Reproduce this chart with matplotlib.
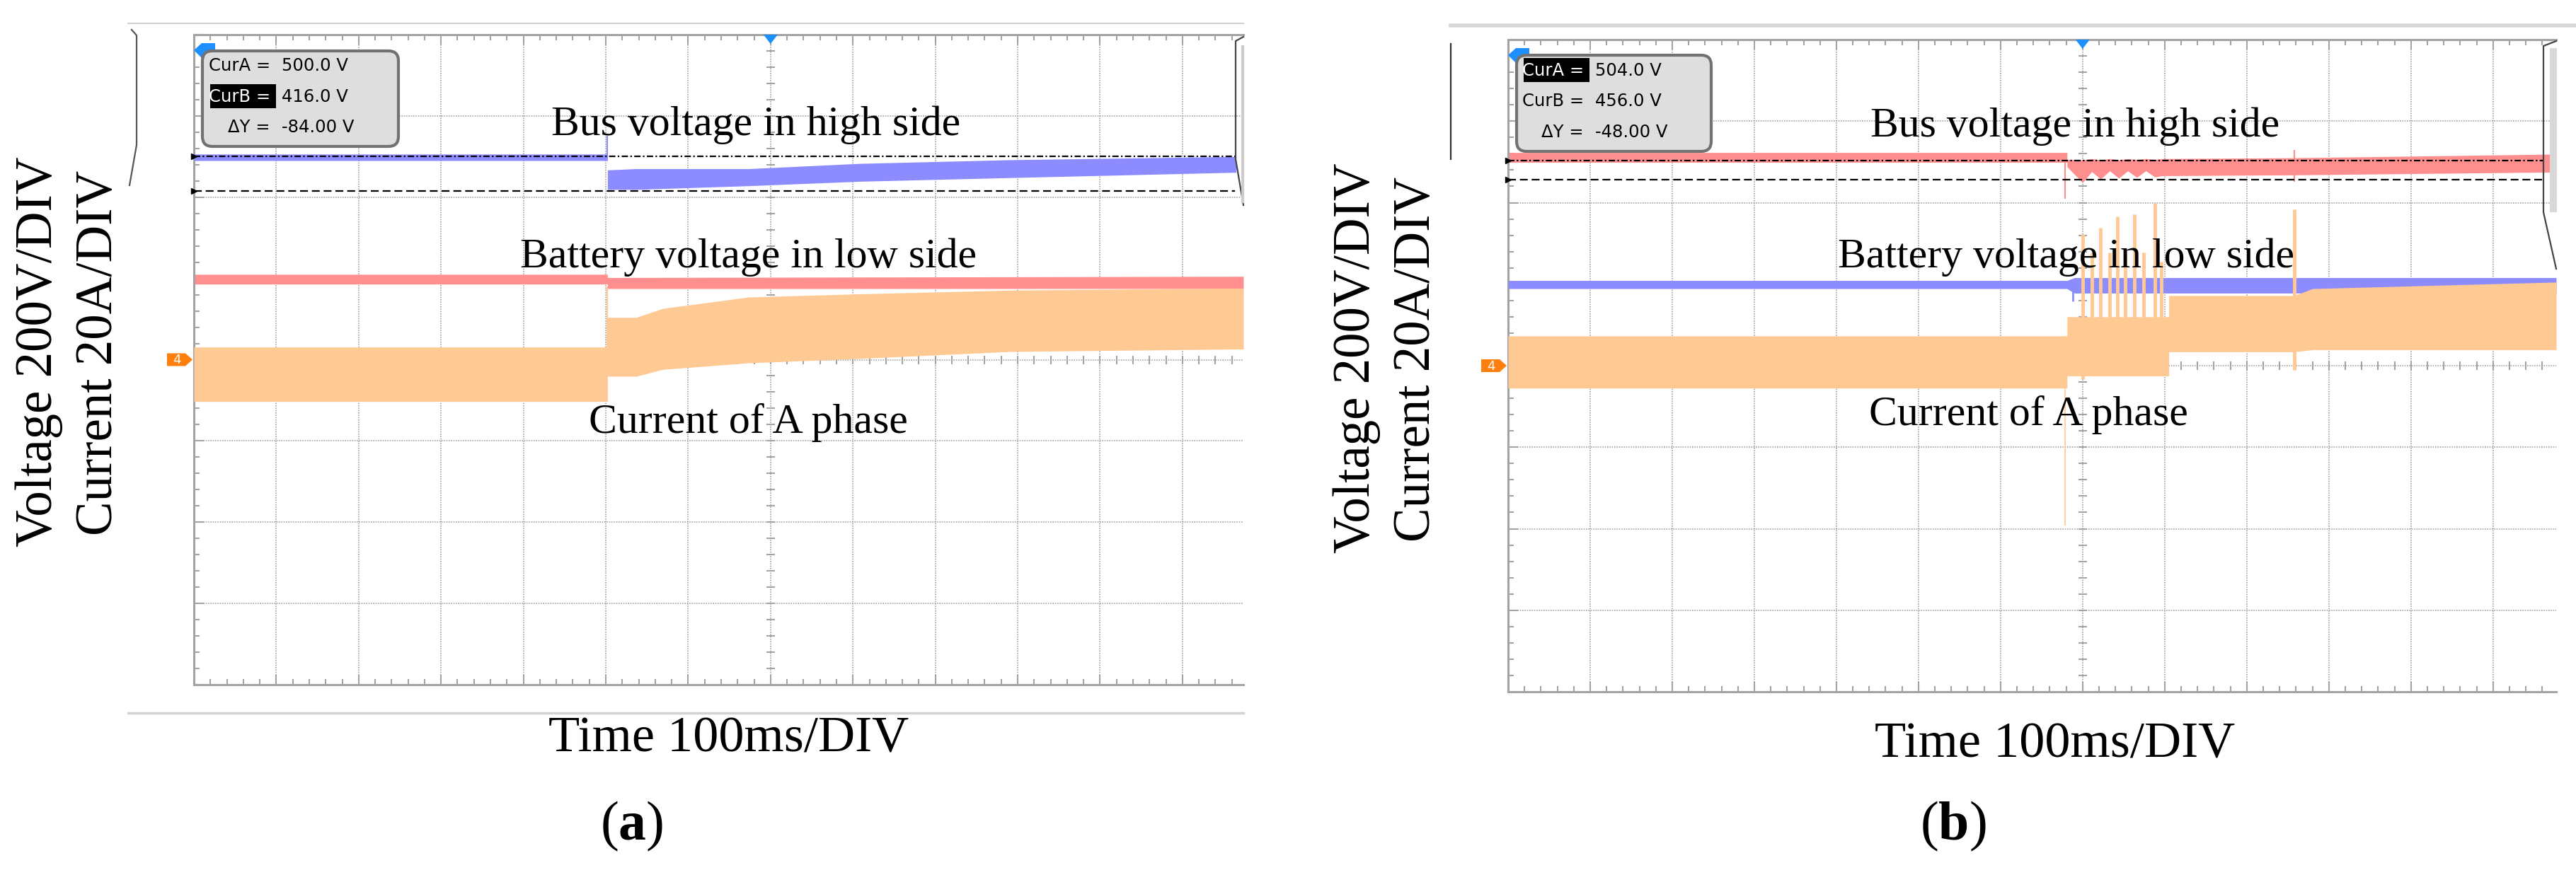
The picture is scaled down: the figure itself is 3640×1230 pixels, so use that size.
import numpy as np
import matplotlib.pyplot as plt
from matplotlib.patches import FancyBboxPatch, Polygon, Rectangle
from matplotlib.transforms import Affine2D

plt.rcParams['font.family'] = 'Liberation Serif'
plt.rcParams['mathtext.fontset'] = 'custom'
plt.rcParams['mathtext.rm'] = 'Liberation Serif'
plt.rcParams['mathtext.bf'] = 'Liberation Serif:bold'

# scope traces
# time in ms (100 ms/DIV, trigger at 0), voltage in V (200 V/DIV), current in A (20 A/DIV)
a_bus_t = [-700, -198, -198, -163, -27, 109, 291, 563, 565]
a_bus_hi = [506, 506, 467, 470, 470, 483, 492, 500, 500]
a_bus_lo = [490, 490, 419, 419, 428, 439, 448, 461, 461]
a_bat_t = [-700, -198, -198, 574]
a_bat_hi = [210, 210, 202, 205]
a_bat_lo = [186, 186, 175, 175]
a_cur_t = [-700, -198, -198, -163, -131, -27, 109, 291, 563, 574]
a_cur_hi = [3.1, 3.1, 10.4, 10.4, 12.6, 15.4, 16.2, 17.1, 17.6, 17.6]
a_cur_lo = [-10.3, -10.3, -4.1, -4.1, -2.4, -0.8, 0.3, 2.0, 2.6, 2.6]
a_cursors = [500.0, 416.0]

b_bus_t = [-700, -19, -19, 0, 11, 22, 33, 44, 55, 66, 77, 88, 97, 258, 577]
b_bus_hi = [523, 523, 506, 505, 508, 505, 508, 505, 508, 506, 508, 506, 508, 510, 519]
b_bus_lo = [499, 499, 488, 449, 476, 458, 478, 460, 478, 462, 478, 463, 466, 468, 475]
b_bat_t = [-700, -19, -10, 577]
b_bat_hi = [209, 209, 216, 216]
b_bat_lo = [189, 189, 178, 178]
b_cur_t = [-700, -19, -19, 105, 105, 258, 280, 577]
b_cur_hi = [7.3, 7.3, 12.0, 12.0, 17.2, 17.2, 18.9, 20.5]
b_cur_lo = [-5.5, -5.5, -2.5, -2.5, 3.4, 3.4, 3.9, 3.9]
b_cursors = [504.0, 456.0]

# transient spikes: time, low, high
b_cur_spk_t = [-21, 0, 11, 22, 33, 42, 52, 63, 74, 88, 96, 258]
b_cur_spk_lo = [-39.3, -3.3, -2.0, -2.5, -2.0, -2.5, -2.0, -2.5, -2.0, -2.2, -2.0, -1.1]
b_cur_spk_hi = [7.3, 32.2, 27.7, 33.8, 27.7, 36.6, 27.7, 37.2, 27.7, 39.9, 25.5, 38.3]
b_bus_spk_t = [-21, 258]
b_bus_spk_lo = [410, 452]
b_bus_spk_hi = [523, 530]
b_bat_spk_t = [-12, 0]
b_bat_spk_lo = [158, 162]
b_bat_spk_hi = [209, 212]
a_bus_spk = ([-198], [490], [551])
a_cur_spk = ([-198], [3.0], [18.0])

W, H = 3640, 1230
fig = plt.figure(figsize=(W / 100, H / 100), dpi=100)
PX = Affine2D().scale(1 / W, 1 / H) + fig.transFigure

GRID = '#a3a3a3'
BLUE = '#8c8cff'
PINK = '#ff8f8f'
ORANGE = '#ffc994'


def line(pts, **kw):
    fig.add_artist(plt.Line2D([p[0] for p in pts], [H - p[1] for p in pts], transform=PX, **kw))


def poly(pts, **kw):
    fig.add_artist(Polygon([(x, H - y) for x, y in pts], closed=True, transform=PX, **kw))


def text(x, y, s, **kw):
    fig.text(x, H - y, s, transform=PX, **kw)


def scope(l, t, r, b, tmax):
    ax = fig.add_axes([l / W, 1 - b / H, (r - l) / W, (b - t) / H])
    ax.set_xlim(-700, tmax)
    ax.set_ylim(-800, 800)
    ax.set_xticks(np.arange(-700, tmax, 100))
    ax.set_xticks(np.arange(-700, tmax, 20), minor=True)
    ax.set_yticks(np.arange(-800, 801, 200))
    ax.set_yticks(np.arange(-800, 801, 40), minor=True)
    ax.tick_params(which='both', direction='in', top=True, right=False,
                   labelbottom=False, labelleft=False, color=GRID, width=1.5)
    ax.tick_params(which='major', length=10)
    ax.tick_params(which='minor', length=5.8)
    ax.grid(True, which='major', color=GRID, linestyle=(0, (1, 1)), linewidth=1.2)
    ax.set_axisbelow(True)
    for s in ['left', 'top', 'bottom']:
        ax.spines[s].set_color(GRID)
        ax.spines[s].set_linewidth(2.2)
    ax.spines['right'].set_visible(False)
    # centre cross with small ticks
    ax.plot(np.zeros(41), np.arange(-800, 801, 40), ls='none', marker='_', ms=9, mew=1.5, color=GRID, zorder=1)
    xt = np.arange(-700, tmax, 20)
    ax.plot(xt, np.zeros(len(xt)), ls='none', marker='|', ms=9, mew=1.5, color=GRID, zorder=1)
    ax2 = ax.twinx()
    ax2.set_ylim(-80, 80)
    ax2.axis('off')
    return ax, ax2


def cursor_lines(ax, levels, tend):
    ax.plot([-700, tend], [levels[0]] * 2, color='k', lw=1.6, ls=(0, (4, 1.5, 1, 1.5)), zorder=5)
    ax.plot([-700, tend], [levels[1]] * 2, color='k', lw=1.6, ls=(0, (5, 2.5)), zorder=5)
    ax.plot([-700, -700], levels, ls='none', marker='>', ms=6, color='k', clip_on=False, zorder=6)


def readout(box, hl, ys, lab_x, val_x, levels):
    x0, y0, x1, y1 = box
    fig.add_artist(FancyBboxPatch((x0, H - y1), x1 - x0, y1 - y0,
                                  boxstyle='round,pad=0,rounding_size=14', transform=PX,
                                  fc='#dedede', ec='#727272', lw=3, zorder=8))
    fig.add_artist(Rectangle((hl[0], H - hl[3]), hl[2] - hl[0], hl[3] - hl[1], transform=PX,
                             fc='k', ec='none', zorder=9))
    labels = ['CurA =', 'CurB =', '\u0394Y =']
    values = ['%.1f V' % levels[0], '%.1f V' % levels[1], '%.2f V' % (levels[1] - levels[0])]
    for i in range(3):
        inside = hl[1] < ys[i] < hl[3]
        text(lab_x, ys[i], labels[i], ha='right', va='center', fontsize=17.5,
             family='DejaVu Sans', color='w' if inside else 'k', zorder=10)
        text(val_x, ys[i], values[i], ha='left', va='center', fontsize=17.5,
             family='DejaVu Sans', color='k', zorder=10)


def markers(l, t, b, tx):
    # trigger-level arrow, trigger position and channel 4 ground marker
    poly([(l, t + 22), (l + 11, t + 12), (l + 30, t + 12), (l + 30, t + 33), (l + 11, t + 33)],
         fc='#1e8fff', ec='none', zorder=7)
    poly([(tx - 10, t), (tx + 10, t), (tx, t + 13)], fc='#1e8fff', ec='none', zorder=7)
    yc = (t + b) / 2
    poly([(l - 38, yc - 9), (l - 12, yc - 9), (l - 2, yc), (l - 12, yc + 9), (l - 38, yc + 9)],
         fc='#ff7f0e', ec='none', zorder=7)
    text(l - 24, yc + 1, '4', ha='center', va='center', fontsize=13, family='DejaVu Sans',
         color='w', zorder=8)


# ---------------- panel (a) ----------------
la, ta, ra, ba = 274, 49, 1757, 968
ax, ax2 = scope(la, ta, ra, ba, 574)
ax.fill_between(a_bat_t, a_bat_lo, a_bat_hi, color=PINK, lw=0, zorder=2)
ax.fill_between(a_bus_t, a_bus_lo, a_bus_hi, color=BLUE, lw=0, zorder=3)
ax.vlines(*a_bus_spk, color=BLUE, lw=1.5, zorder=3)
ax2.fill_between(a_cur_t, a_cur_lo, a_cur_hi, color=ORANGE, lw=0, zorder=2)
ax2.vlines(*a_cur_spk, color=ORANGE, lw=1.5, zorder=2)
cursor_lines(ax, a_cursors, 564)
ax.set_xlim(-700, 574)
ax2.set_ylim(-80, 80)
markers(la, ta, ba, la + 700 / 1274 * (ra - la))
readout((286, 72, 563, 207), (297, 119, 390, 153), [93, 137, 180], 382, 398, a_cursors)

# ---------------- panel (b) ----------------
lb, tb, rb, bb = 2131, 56, 3612, 978
bx, bx2 = scope(lb, tb, rb, bb, 577)
bx.fill_between(b_bus_t, b_bus_lo, b_bus_hi, color=PINK, lw=0, zorder=2)
bx.vlines(b_bus_spk_t, b_bus_spk_lo, b_bus_spk_hi, color=PINK, lw=1.5, zorder=2)
bx.fill_between(b_bat_t, b_bat_lo, b_bat_hi, color=BLUE, lw=0, zorder=3)
bx.vlines(b_bat_spk_t, b_bat_spk_lo, b_bat_spk_hi, color=BLUE, lw=2, zorder=3)
bx2.fill_between(b_cur_t, b_cur_lo, b_cur_hi, color=ORANGE, lw=0, zorder=2)
bx2.vlines(b_cur_spk_t, b_cur_spk_lo, b_cur_spk_hi, color=ORANGE,
           lw=[1.2] + [3.5] * (len(b_cur_spk_t) - 1), zorder=2)
cursor_lines(bx, b_cursors, 561)
bx.set_xlim(-700, 577)
bx2.set_ylim(-80, 80)
markers(lb, tb, bb, lb + 700 / 1277 * (rb - lb))
readout((2143, 78, 2418, 214), (2153, 82, 2246, 116), [100, 143, 187], 2238, 2254, b_cursors)

# frame pieces of the scope screenshots
line([(181, 33), (1757, 33)], color='#cfcfcf', lw=1.5)
line([(181, 1008), (1757, 1008)], color='#d2d2d2', lw=2.5)
line([(2050, 36), (3640, 36)], color='#d6d6d6', lw=4)
line([(186, 42), (193, 50), (193, 205), (183, 262)], color='#555555', lw=1.6)
line([(1757, 52), (1746, 58), (1746, 225), (1757, 290)], color='#444444', lw=1.6)
line([(1756, 66), (1756, 285)], color='#cccccc', lw=3)
line([(2050, 62), (2050, 225)], color='#333333', lw=1.6)
line([(3612, 58), (3594, 65), (3594, 300), (3612, 380)], color='#444444', lw=1.6)
fig.add_artist(Rectangle((3603, H - 300), 10, 232, transform=PX, fc='#d8d8d8', ec='none'))

# annotations
for x, y, s in [(1068, 191, 'Bus voltage in high side'), (1058, 378, 'Battery voltage in low side'),
                (1057, 612, 'Current of A phase'), (2932, 193, 'Bus voltage in high side'),
                (2920, 378, 'Battery voltage in low side'), (2866, 601, 'Current of A phase')]:
    text(x, y, s, ha='center', va='baseline', fontsize=43, zorder=12)

for x0, yc in [(55, 497), (1917, 506)]:
    text(x0, yc, 'Voltage 200V/DIV', rotation=90, ha='center', va='center', fontsize=52.5)
    text(x0 + 85, yc + 2, 'Current 20A/DIV', rotation=90, ha='center', va='center', fontsize=52.5)

text(1030, 1045, 'Time 100ms/DIV', ha='center', va='center', fontsize=52)
text(2904, 1053, 'Time 100ms/DIV', ha='center', va='center', fontsize=52)
text(893, 1168, r'($\mathbf{a}$)', ha='center', va='center', fontsize=56)
text(2760, 1168, r'($\mathbf{b}$)', ha='center', va='center', fontsize=56)

fig.savefig('out.png', dpi=100, facecolor='white')
